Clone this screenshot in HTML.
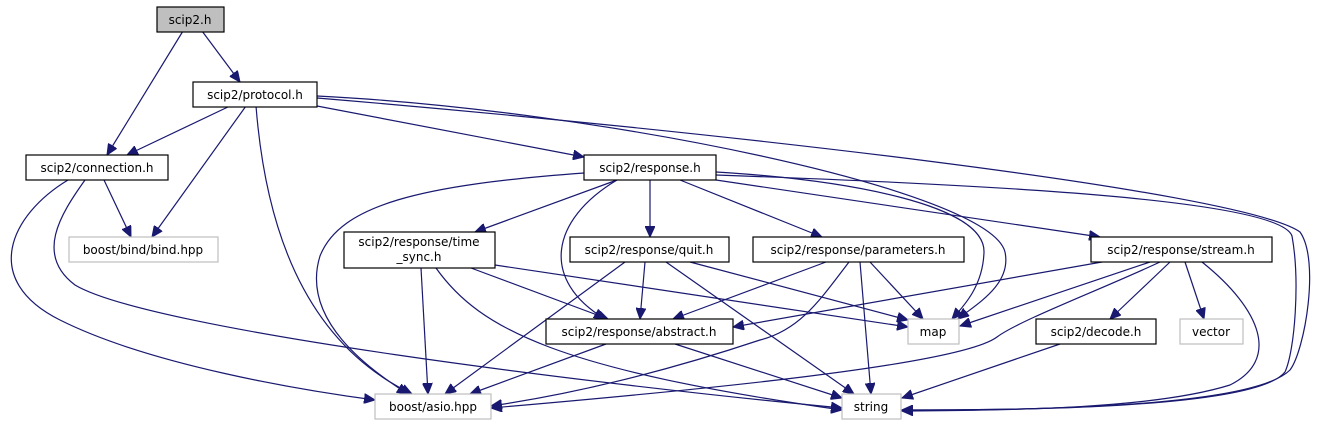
<!DOCTYPE html>
<html><head><meta charset="utf-8"><style>
html,body{margin:0;padding:0;background:#fff;}
svg{display:block}
text{font-family:"DejaVu Sans","Liberation Sans",sans-serif;font-size:12px;fill:#000;text-anchor:middle}
.e{fill:none;stroke:#191970;stroke-width:1.2}
.b{fill:#fff;stroke:#000;stroke-width:1.2}
.g{fill:#fff;stroke:#bfbfbf;stroke-width:1.2}
</style></head><body>
<svg width="1317" height="425" viewBox="0 0 1317 425">
<defs><marker id="a" markerUnits="userSpaceOnUse" markerWidth="12" markerHeight="10" refX="11" refY="5" orient="auto"><path d="M0,0 L11,5 L0,10 z" fill="#191970" stroke="#191970"/></marker></defs>
<g marker-end="url(#a)">
<path class="e" d="M183,31 L107,155"/>
<path class="e" d="M202,31 L240,82"/>
<path class="e" d="M230,106 L127,155"/>
<path class="e" d="M246,106 L152,237"/>
<path class="e" d="M256,106 C265,220 300,340 412,394"/>
<path class="e" d="M317,106 L584,157"/>
<path class="e" d="M317,96 C600,110 990,190 1005,252 C1012,285 975,305 958,319"/>
<path class="e" d="M317,98 C700,130 1240,190 1300,232 C1320,260 1305,350 1290,370 C1250,410 1000,410 902,410"/>
<path class="e" d="M68,180 C10,215 -20,280 60,320 C150,365 300,390 375,400"/>
<path class="e" d="M85,180 C60,215 35,255 75,285 C150,330 600,385 842,408"/>
<path class="e" d="M104,180 L131,237"/>
<path class="e" d="M584,173 C420,185 340,205 320,256 C300,320 370,370 408,394"/>
<path class="e" d="M617,180 L475,232"/>
<path class="e" d="M617,180 C550,220 540,280 605,319"/>
<path class="e" d="M650,180 L650,237"/>
<path class="e" d="M680,180 L822,237"/>
<path class="e" d="M716,180 L1100,237"/>
<path class="e" d="M716,172 C850,180 985,205 984,252 C983,285 965,305 952,319"/>
<path class="e" d="M716,175 C1000,185 1280,200 1292,236 C1300,280 1295,350 1285,372 C1255,410 1000,410 902,410"/>
<path class="e" d="M421,268 L428,394"/>
<path class="e" d="M436,268 C480,330 560,370 842,410"/>
<path class="e" d="M471,268 L608,319"/>
<path class="e" d="M495,265 L908,327"/>
<path class="e" d="M625,262 L445,394"/>
<path class="e" d="M645,262 L640,319"/>
<path class="e" d="M666,262 L854,394"/>
<path class="e" d="M690,262 L908,320"/>
<path class="e" d="M826,262 L673,319"/>
<path class="e" d="M849,262 C820,300 800,330 760,340 C700,360 600,390 491,406"/>
<path class="e" d="M860,262 L871,394"/>
<path class="e" d="M870,262 L923,319"/>
<path class="e" d="M1102,262 L733,327"/>
<path class="e" d="M1150,262 L960,326"/>
<path class="e" d="M1160,262 C1100,290 1020,320 997,337 C960,365 700,390 491,408"/>
<path class="e" d="M1170,262 L1110,319"/>
<path class="e" d="M1185,262 L1204,319"/>
<path class="e" d="M1202,262 C1262,310 1280,360 1230,385 C1150,410 1000,410 902,411"/>
<path class="e" d="M606,344 L470,394"/>
<path class="e" d="M675,344 L842,398"/>
<path class="e" d="M1060,344 L902,398"/>
</g>
<rect x="157" y="7" width="67" height="25" fill="#bfbfbf" stroke="#000" stroke-width="1.2"/><text x="190" y="24">scip2.h</text>
<rect class="b" x="193" y="82" width="124" height="25"/><text x="255" y="99">scip2/protocol.h</text>
<rect class="b" x="26" y="155" width="142" height="25"/><text x="97" y="172">scip2/connection.h</text>
<rect class="g" x="69" y="237" width="149" height="25"/><text x="143" y="254">boost/bind/bind.hpp</text>
<rect class="b" x="584" y="155" width="132" height="25"/><text x="650" y="172">scip2/response.h</text>
<rect class="b" x="344" y="232" width="151" height="36"/><text x="419" y="246">scip2/response/time</text><text x="419" y="261">_sync.h</text>
<rect class="b" x="570" y="237" width="159" height="25"/><text x="649" y="254">scip2/response/quit.h</text>
<rect class="b" x="753" y="237" width="211" height="25"/><text x="858" y="254">scip2/response/parameters.h</text>
<rect class="b" x="1091" y="237" width="181" height="25"/><text x="1181" y="254">scip2/response/stream.h</text>
<rect class="b" x="546" y="319" width="187" height="25"/><text x="639" y="336">scip2/response/abstract.h</text>
<rect class="g" x="908" y="319" width="51" height="25"/><text x="933" y="336">map</text>
<rect class="b" x="1036" y="319" width="120" height="25"/><text x="1096" y="336">scip2/decode.h</text>
<rect class="g" x="1180" y="319" width="63" height="25"/><text x="1211" y="336">vector</text>
<rect class="g" x="375" y="394" width="116" height="25"/><text x="433" y="411">boost/asio.hpp</text>
<rect class="g" x="842" y="394" width="59" height="25"/><text x="871" y="411">string</text>
</svg>
</body></html>
